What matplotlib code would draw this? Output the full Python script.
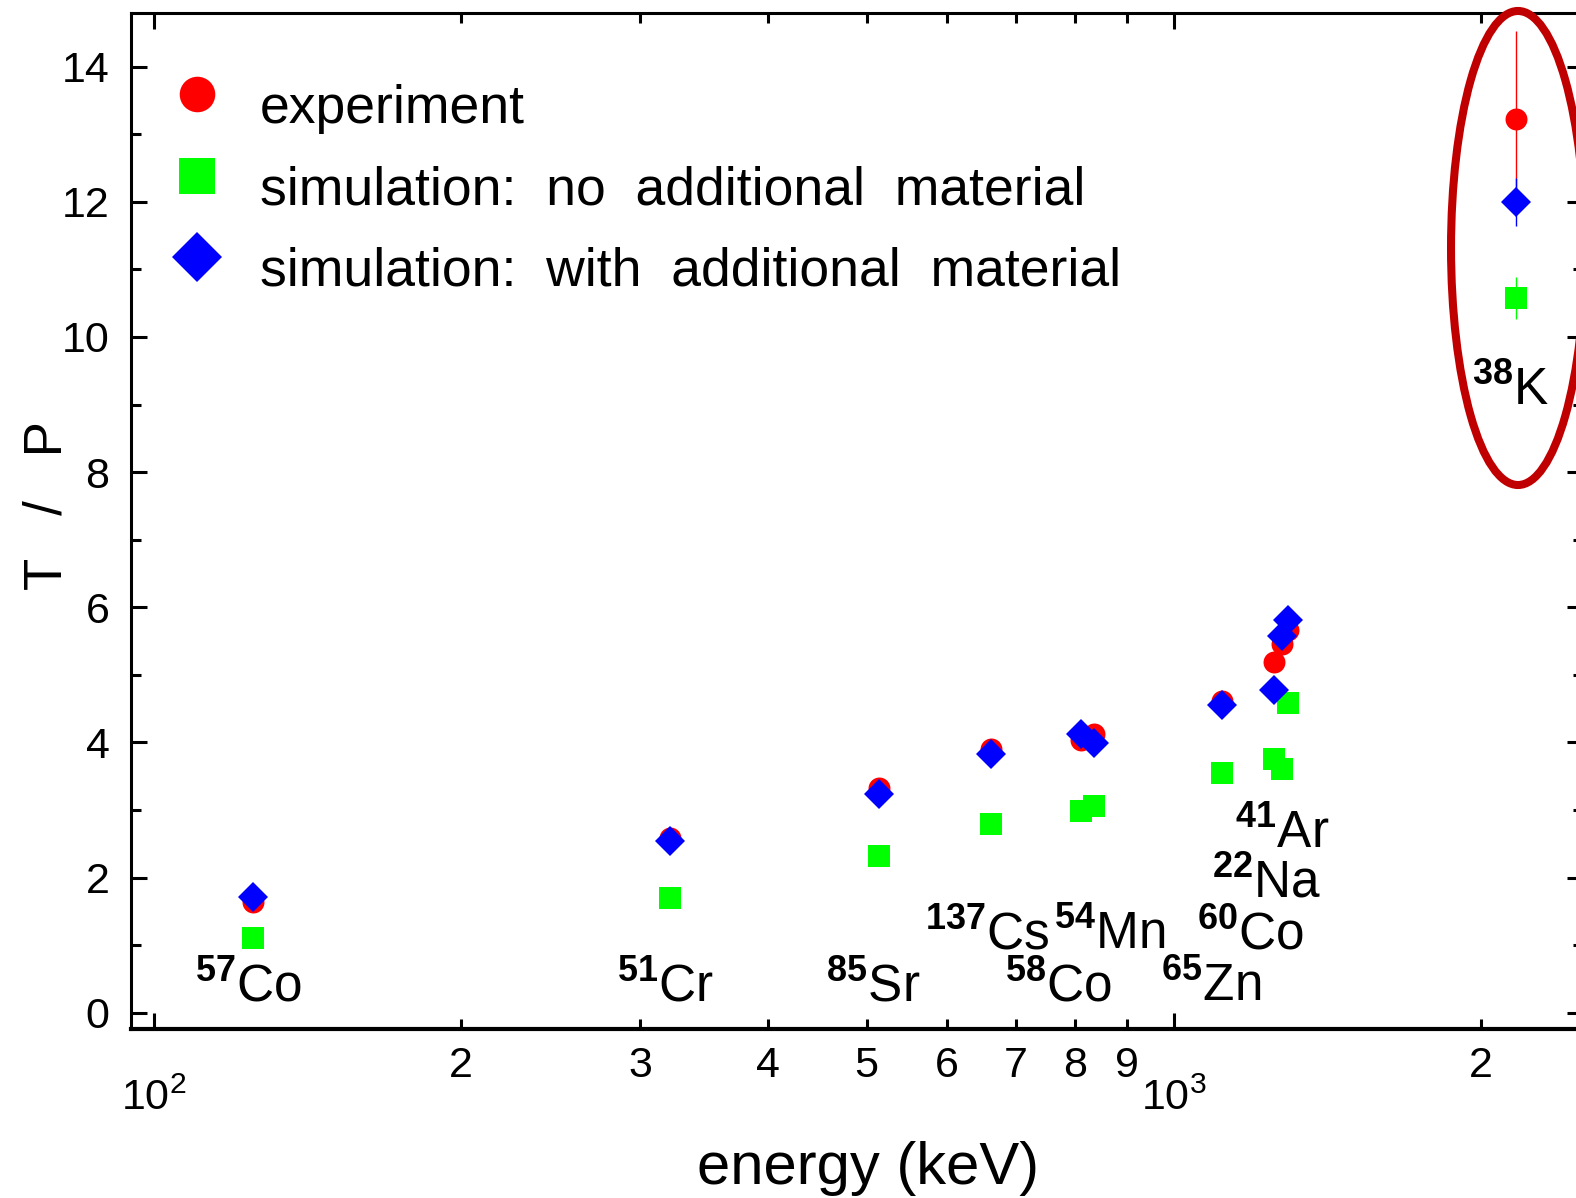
import matplotlib
matplotlib.use("Agg")
import matplotlib.pyplot as plt
import numpy as np
from matplotlib import font_manager, ticker
from matplotlib.patches import Ellipse

# gamma line energies (keV) and T/P ratios
energy = [125, 321, 514, 662, 811, 836, 1116, 1254, 1276, 1294, 2168]
exp_tp = [1.64, 2.59, 3.32, 3.90, 4.03, 4.12, 4.61, 5.19, 5.46, 5.66, 13.22]
exp_err = [0, 0, 0, 0, 0, 0, 0, 0, 0, 0, 1.31]
sim_none = [1.10, 1.70, 2.32, 2.79, 2.99, 3.06, 3.55, 3.75, 3.61, 4.58, 10.58]
sim_none_err = [0, 0, 0, 0, 0, 0, 0, 0, 0, 0, 0.31]
sim_with = [1.72, 2.54, 3.23, 3.83, 4.12, 3.99, 4.56, 4.78, 5.58, 5.81, 12.00]
sim_with_err = [0, 0, 0, 0, 0, 0, 0, 0, 0, 0, 0.36]

# isotope labels
iso_mass = ["57", "51", "85", "137", "58", "54", "65", "60", "22", "41", "38"]
iso_elem = ["Co", "Cr", "Sr", "Cs", "Co", "Mn", "Zn", "Co", "Na", "Ar", "K"]
iso_x = [123.9, 317.8, 507.8, 657.4, 772.3, 866.8, 1088.9, 1190, 1234.6, 1276.8, 2140]
iso_y = [0.17, 0.17, 0.17, 0.94, 0.17, 0.94, 0.17, 0.94, 1.70, 2.44, 8.99]

legend_labels = [
    "experiment",
    "simulation:  no  additional  material",
    "simulation:  with  additional  material",
]

RED, GREEN, BLUE = "#ff0000", "#00ff00", "#0000ff"

installed = {f.name for f in font_manager.fontManager.ttflist}
REG = "Liberation Sans" if "Liberation Sans" in installed else "DejaVu Sans"
NARROW = "Liberation Sans Narrow" if "Liberation Sans Narrow" in installed else REG

plt.rcParams["font.family"] = REG
plt.rcParams["mathtext.fontset"] = "custom"
plt.rcParams["mathtext.rm"] = NARROW
plt.rcParams["mathtext.bf"] = NARROW + ":bold"


def main() -> None:
    fig = plt.figure(figsize=(15.76, 11.98), dpi=100)
    ax = fig.add_axes([0.0831, 0.1411, 0.9213, 0.8478])

    ax.errorbar(energy, sim_none, yerr=sim_none_err, fmt="s", ms=15.6, color=GREEN,
                mew=0, elinewidth=1.0, capsize=0, zorder=3)
    ax.errorbar(energy, exp_tp, yerr=exp_err, fmt="o", ms=15.8, color=RED,
                mew=0, elinewidth=1.0, capsize=0, zorder=4)
    ax.errorbar(energy, sim_with, yerr=sim_with_err, fmt="D", ms=15.3, color=BLUE,
                mew=0, elinewidth=1.0, capsize=0, zorder=5)

    ax.set_xscale("log")
    ax.set_xlim(95, 2520)
    ax.set_ylim(-0.24, 14.79)

    ax.yaxis.set_major_locator(ticker.MultipleLocator(2))
    ax.yaxis.set_minor_locator(ticker.MultipleLocator(1))
    ax.xaxis.set_major_locator(ticker.LogLocator(base=10))
    ax.xaxis.set_minor_locator(ticker.LogLocator(base=10, subs=np.arange(2, 10)))
    ax.xaxis.set_minor_formatter(ticker.FuncFormatter(
        lambda v, p: f"{int(round(v / 10 ** np.floor(np.log10(v))))}"))

    for side in ax.spines.values():
        side.set_linewidth(2.2)
    ax.spines["bottom"].set_linewidth(3.0)
    ax.tick_params(which="both", direction="in", top=True, right=True, width=2.2,
                   labelsize=31)
    ax.tick_params(which="major", length=11.5)
    ax.tick_params(which="minor", length=7.2)
    ax.tick_params(axis="y", which="major", pad=15.5)
    ax.tick_params(axis="x", which="minor", pad=12)
    ax.tick_params(axis="x", which="major", pad=36)
    for lab in ax.get_xticklabels(which="both") + ax.get_yticklabels():
        lab.set_fontfamily(NARROW)

    ax.set_xlabel("energy (keV)", fontsize=43)
    ax.xaxis.set_label_coords(0.5076, -0.110)
    ax.set_ylabel("T   /   P", fontsize=38)
    ax.yaxis.set_label_coords(-0.040, 0.515)

    for m, el, x, y in zip(iso_mass, iso_elem, iso_x, iso_y):
        ax.text(x, y, r"$^{\mathbf{" + m + r"}}$" + el, fontsize=37, ha="center",
                va="baseline", zorder=6)

    # legend, drawn by hand so the keys sit like in the original
    key_y = [0.9203, 0.8401, 0.7598]
    text_y = [0.8917, 0.8122, 0.7318]
    keys = [("o", 25.6, RED), ("s", 25.6, GREEN), ("D", 25.6, BLUE)]
    for (mk, ms, c), ky, ty, lab in zip(keys, key_y, text_y, legend_labels):
        ax.plot([0.0458], [ky], marker=mk, ms=ms, color=c, mew=0, ls="none",
                transform=ax.transAxes, clip_on=False)
        ax.text(0.0888, ty, lab, fontsize=38.5, transform=ax.transAxes,
                ha="left", va="baseline")

    fig.add_artist(Ellipse((0.9632, 0.7930), 0.085, 0.3957, transform=fig.transFigure,
                           fill=False, edgecolor="#c00000", linewidth=5.8, clip_on=False))

    fig.savefig("out.png", dpi=100)
    plt.close(fig)


if __name__ == "__main__":
    main()
